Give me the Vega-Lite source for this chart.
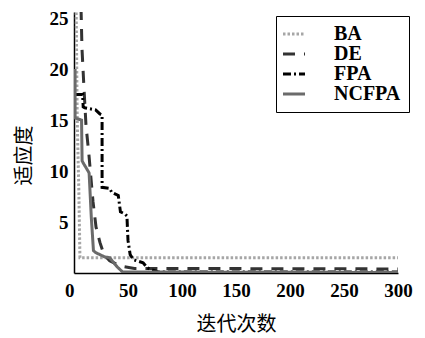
{
  "$schema": "https://vega.github.io/schema/vega-lite/v6.json",
  "autosize": "none",
  "width": 324,
  "height": 261,
  "padding": {"left": 74, "top": 12, "right": 27, "bottom": 65},
  "background": "white",
  "config": {
    "view": {"stroke": null},
    "axis": {
      "grid": false,
      "domainColor": "black",
      "domainWidth": 1.5,
      "tickColor": "black",
      "labelFont": "Liberation Serif",
      "labelFontWeight": "bold",
      "labelFontSize": 19,
      "labelColor": "black",
      "titleFont": "Noto Sans CJK SC",
      "titleFontSize": 20,
      "titleFontWeight": "normal",
      "titleColor": "black"
    }
  },
  "data": {
    "values": [
      {"s": "BA", "x": 2, "y": 26},
      {"s": "BA", "x": 3, "y": 15},
      {"s": "BA", "x": 4.5, "y": 8},
      {"s": "BA", "x": 5.5, "y": 1.5},
      {"s": "BA", "x": 300, "y": 1.5},
      {"s": "DE", "x": 6.5, "y": 26},
      {"s": "DE", "x": 7.4, "y": 22},
      {"s": "DE", "x": 9.3, "y": 18},
      {"s": "DE", "x": 11.1, "y": 14.5},
      {"s": "DE", "x": 13.9, "y": 11.5},
      {"s": "DE", "x": 17.6, "y": 7},
      {"s": "DE", "x": 20.4, "y": 4.5},
      {"s": "DE", "x": 24, "y": 3},
      {"s": "DE", "x": 27.8, "y": 1.8},
      {"s": "DE", "x": 33, "y": 1.2},
      {"s": "DE", "x": 42.6, "y": 0.7},
      {"s": "DE", "x": 56, "y": 0.45},
      {"s": "DE", "x": 300, "y": 0.4},
      {"s": "FPA", "x": 1, "y": 17.5},
      {"s": "FPA", "x": 8, "y": 17.5},
      {"s": "FPA", "x": 8.5, "y": 16.3},
      {"s": "FPA", "x": 10, "y": 16.2},
      {"s": "FPA", "x": 20, "y": 16},
      {"s": "FPA", "x": 24, "y": 15.6},
      {"s": "FPA", "x": 26, "y": 15.5},
      {"s": "FPA", "x": 26, "y": 8.4},
      {"s": "FPA", "x": 33, "y": 8.3},
      {"s": "FPA", "x": 35, "y": 7.9},
      {"s": "FPA", "x": 41, "y": 7.6},
      {"s": "FPA", "x": 43, "y": 6},
      {"s": "FPA", "x": 47, "y": 5.8},
      {"s": "FPA", "x": 49, "y": 5.6},
      {"s": "FPA", "x": 50, "y": 3.2},
      {"s": "FPA", "x": 52, "y": 1.8},
      {"s": "FPA", "x": 55, "y": 1.3},
      {"s": "FPA", "x": 61, "y": 1.1},
      {"s": "FPA", "x": 64, "y": 1.0},
      {"s": "FPA", "x": 68, "y": 0.5},
      {"s": "FPA", "x": 72, "y": 0.3},
      {"s": "FPA", "x": 78, "y": 0.1},
      {"s": "FPA", "x": 300, "y": 0.1},
      {"s": "NCFPA", "x": 1, "y": 20},
      {"s": "NCFPA", "x": 1, "y": 15.2},
      {"s": "NCFPA", "x": 7, "y": 15},
      {"s": "NCFPA", "x": 7.5, "y": 11},
      {"s": "NCFPA", "x": 8.5, "y": 10.8},
      {"s": "NCFPA", "x": 13, "y": 10},
      {"s": "NCFPA", "x": 14, "y": 9.8},
      {"s": "NCFPA", "x": 16, "y": 5.5},
      {"s": "NCFPA", "x": 18, "y": 2.2},
      {"s": "NCFPA", "x": 20, "y": 2.0},
      {"s": "NCFPA", "x": 24, "y": 1.8},
      {"s": "NCFPA", "x": 28, "y": 1.6},
      {"s": "NCFPA", "x": 33, "y": 1.5},
      {"s": "NCFPA", "x": 40, "y": 0.6},
      {"s": "NCFPA", "x": 45, "y": 0.1},
      {"s": "NCFPA", "x": 300, "y": 0.05}
    ]
  },
  "mark": {"type": "line", "clip": true, "strokeWidth": 3},
  "encoding": {
    "x": {
      "field": "x", "type": "quantitative",
      "scale": {"domain": [0, 300], "nice": false},
      "axis": {
        "values": [0, 50, 100, 150, 200, 250, 300],
        "title": "迭代次数",
        "ticks": false,
        "labelPadding": 8,
        "labelFlush": false,
        "labelAlign": {"condition": {"test": "datum.value === 0", "value": "right"}, "value": "center"},
        "titlePadding": 14
      }
    },
    "y": {
      "field": "y", "type": "quantitative",
      "scale": {"domain": [0, 25.6], "nice": false},
      "axis": {
        "values": [5, 10, 15, 20, 25],
        "title": "适应度",
        "ticks": false,
        "labelPadding": 6,
        "titleX": -50,
        "titleY": 143,
        "titleAlign": "center",
        "titleBaseline": "middle"
      }
    },
    "color": {
      "field": "s", "type": "nominal",
      "scale": {"domain": ["BA", "DE", "FPA", "NCFPA"], "range": ["#a6a6a6", "#333333", "#000000", "#6b6b6b"]},
      "legend": {
        "title": null,
        "orient": "none",
        "legendX": 202,
        "legendY": 4,
        "symbolType": "M-2,0L2,0",
        "symbolSize": 121,
        "symbolStrokeWidth": 3,
        "labelFont": "Liberation Serif",
        "labelFontWeight": "bold",
        "labelFontSize": 20,
        "labelColor": "black",
        "labelOffset": 30,
        "rowPadding": 0,
        "strokeColor": "black",
        "fillColor": "white",
        "padding": 8
      }
    },
    "strokeDash": {
      "field": "s", "type": "nominal",
      "scale": {"domain": ["BA", "DE", "FPA", "NCFPA"], "range": [[2.5, 2], [12, 9], [8, 3, 2, 3], [1, 0]]},
      "legend": null
    }
  }
}
